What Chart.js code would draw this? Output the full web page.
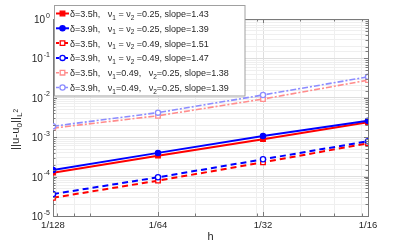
<!DOCTYPE html>
<html>
<head>
<meta charset="utf-8">
<script src="https://cdn.jsdelivr.net/npm/chart.js@4"></script>
<style>
  html, body { margin: 0; padding: 0; background: #fff; }
  #wrap { width: 407px; height: 244px; position: relative; }
</style>
</head>
<body>
<div id="wrap"><canvas id="errChart"></canvas></div>
<script>
// mesh sizes and their labels
const hValues = [1 / 128, 1 / 64, 1 / 32, 1 / 16];
const hLabels = ['1/128', '1/64', '1/32', '1/16'];

// error values
const errRedSolid   = [1.26e-4, 3.4e-4, 8.9e-4, 2.4e-3];
const errBlueSolid  = [1.48e-4, 4.0e-4, 1.07e-3, 2.6e-3];
const errRedDash    = [2.9e-5, 7.9e-5, 2.3e-4, 7.0e-4];
const errBlueDash   = [3.6e-5, 9.6e-5, 2.75e-4, 7.9e-4];
const errPink       = [1.7e-3, 3.5e-3, 9.3e-3, 2.8e-2];
const errLightBlue  = [1.9e-3, 4.2e-3, 1.18e-2, 3.4e-2];

// legend pieces
const deltas = ['3.5', '3.9', '3.5', '3.9', '3.5', '3.9'];
const nu1 = ['0.25', '0.25', '0.49', '0.49', '0.49', '0.49'];
const nu2 = ['0.25', '0.25', '0.49', '0.49', '0.25', '0.25'];
const slopes = ['1.43', '1.39', '1.51', '1.47', '1.38', '1.39'];

// y tick decades
const yDecades = [-5, -4, -3, -2, -1, 0];
// extra x grid lines (matlab minor grid on log axis)
const xMinor = [0.008, 0.009, 0.01, 0.02, 0.03, 0.04, 0.05, 0.06];

const FONT = '"Liberation Sans", Arial, Helvetica, sans-serif';
const TXT = '#262626';

function pts(arr) {
  return arr.map((v, i) => ({ x: hValues[i], y: v }));
}

function isMajorX(v) {
  return hValues.some(h => Math.abs(h - v) / h < 1e-6);
}
function isDecade(v) {
  const l = Math.log10(v);
  return Math.abs(l - Math.round(l)) < 1e-6;
}

const series = [
  { data: errRedSolid, color: '#ff0000', style: 'rect', open: false, dash: [], width: 2 },
  { data: errBlueSolid, color: '#0000ff', style: 'circle', open: false, dash: [], width: 2 },
  { data: errRedDash, color: '#ff0000', style: 'rect', open: true, dash: [6, 4], width: 2 },
  { data: errBlueDash, color: '#0000ff', style: 'circle', open: true, dash: [6, 4], width: 2 },
  { data: errPink, color: '#ff8c8c', style: 'rect', open: true, dash: [6, 2, 2, 2], width: 1.6 },
  { data: errLightBlue, color: '#8c8cff', style: 'circle', open: true, dash: [6, 2, 2, 2], width: 1.6 }
];

// draw a run of text pieces; each piece {t, size, dy}
function drawRich(ctx, x, y, parts) {
  let cx = x;
  parts.forEach(p => {
    ctx.font = p.size + 'px ' + FONT;
    ctx.fillText(p.t, cx, y + (p.dy || 0));
    cx += ctx.measureText(p.t).width;
  });
  return cx - x;
}

function drawMarker(ctx, s, x, y) {
  ctx.save();
  ctx.setLineDash([]);
  ctx.lineWidth = 1.3;
  ctx.strokeStyle = s.color;
  ctx.fillStyle = s.open ? '#ffffff' : s.color;
  ctx.beginPath();
  if (s.style === 'rect') {
    ctx.rect(x - 2.3, y - 2.3, 4.6, 4.6);
  } else {
    ctx.arc(x, y, 2.6, 0, Math.PI * 2);
  }
  ctx.fill();
  ctx.stroke();
  ctx.restore();
}

const overlay = {
  id: 'overlay',
  afterDraw(chart) {
    const { ctx, chartArea: a, scales } = chart;
    const xs = scales.x, ys = scales.y;
    ctx.save();

    // box and inward ticks
    ctx.strokeStyle = '#7a7a7a';
    ctx.lineWidth = 1;
    ctx.beginPath();
    ctx.moveTo(a.left, a.top + 0.5);
    ctx.lineTo(a.right + 0.5, a.top + 0.5);
    ctx.lineTo(a.right + 0.5, a.bottom);
    ctx.stroke();

    ys.ticks.forEach(t => {
      const py = Math.round(ys.getPixelForValue(t.value)) + 0.5;
      const len = isDecade(t.value) ? 4 : 2.5;
      ctx.beginPath();
      ctx.moveTo(a.left, py); ctx.lineTo(a.left + len, py);
      ctx.moveTo(a.right, py); ctx.lineTo(a.right - len, py);
      ctx.stroke();
    });
    xs.ticks.forEach(t => {
      const px = Math.round(xs.getPixelForValue(t.value)) + 0.5;
      const len = isMajorX(t.value) ? 4 : 2.5;
      ctx.beginPath();
      ctx.moveTo(px, a.bottom); ctx.lineTo(px, a.bottom - len);
      ctx.moveTo(px, a.top); ctx.lineTo(px, a.top + len);
      ctx.stroke();
    });

    // y tick labels 10^k
    ctx.fillStyle = TXT;
    ctx.textBaseline = 'alphabetic';
    yDecades.forEach(k => {
      const py = ys.getPixelForValue(Math.pow(10, k));
      const exp = String(k);
      ctx.font = '7px ' + FONT;
      const ew = ctx.measureText(exp).width;
      ctx.font = '10px ' + FONT;
      const bw = ctx.measureText('10').width;
      const right = 50;
      ctx.fillText('10', right - ew - bw - 1, py + 4);
      ctx.font = '7px ' + FONT;
      ctx.fillText(exp, right - ew, py - 1.5);
    });

    // y axis title ||u-u_0||_{L^2}
    ctx.save();
    ctx.translate(19, 150);
    ctx.rotate(-Math.PI / 2);
    drawRich(ctx, 0, 0, [
      { t: '||u-u', size: 11.5 },
      { t: '0', size: 8, dy: 3 },
      { t: '||', size: 11.5 },
      { t: 'L', size: 8, dy: 3 },
      { t: '2', size: 6.5, dy: -1.5 }
    ]);
    ctx.restore();

    // legend
    const lx = 54.5, ly = 5.5, lw = 190.5, lh = 90.5;
    ctx.fillStyle = '#ffffff';
    ctx.fillRect(lx, ly, lw, lh);
    ctx.strokeStyle = '#a0a0a0';
    ctx.lineWidth = 1;
    ctx.strokeRect(lx, ly, lw, lh);

    series.forEach((s, i) => {
      const ry = 13.5 + i * 14.8;
      ctx.save();
      ctx.strokeStyle = s.color;
      ctx.lineWidth = s.width;
      ctx.setLineDash(s.dash.length ? [3, 1.5] : []);
      ctx.beginPath();
      ctx.moveTo(56, ry); ctx.lineTo(69, ry);
      ctx.stroke();
      ctx.restore();
      drawMarker(ctx, s, 62.5, ry);

      ctx.fillStyle = TXT;
      const same = nu1[i] === nu2[i];
      const base = 9;
      drawRich(ctx, 70, ry + 3.5, same ? [
        { t: 'δ=' + deltas[i] + 'h,   ν', size: base },
        { t: '1', size: 6.5, dy: 2.5 },
        { t: ' = ν', size: base },
        { t: '2', size: 6.5, dy: 2.5 },
        { t: ' =' + nu1[i] + ', slope=' + slopes[i], size: base }
      ] : [
        { t: 'δ=' + deltas[i] + 'h,   ν', size: base },
        { t: '1', size: 6.5, dy: 2.5 },
        { t: '=' + nu1[i] + ',   ν', size: base },
        { t: '2', size: 6.5, dy: 2.5 },
        { t: '=' + nu2[i] + ', slope=' + slopes[i], size: base }
      ]);
    });

    ctx.restore();
  }
};

const datasets = series.map((s, i) => ({
  data: pts(s.data),
  borderColor: s.color,
  backgroundColor: s.color,
  borderWidth: s.width,
  borderDash: s.dash,
  pointStyle: s.style,
  pointRadius: s.style === 'rect' ? 3.2 : 2.6,
  pointBorderWidth: 1.3,
  pointBorderColor: s.color,
  pointBackgroundColor: s.open ? '#ffffff' : s.color,
  tension: 0,
  fill: false,
  order: 6 - i
}));

new Chart(document.getElementById('errChart'), {
  type: 'line',
  data: { datasets },
  options: {
    responsive: true,
    maintainAspectRatio: false,
    animation: false,
    layout: { padding: { top: 19, right: 39, left: 0, bottom: 0 } },
    plugins: {
      legend: { display: false },
      tooltip: { enabled: false }
    },
    scales: {
      x: {
        type: 'logarithmic',
        min: 1 / 128,
        max: 1 / 16,
        afterBuildTicks: s => {
          s.ticks = hValues.concat(xMinor).sort((p, q) => p - q).map(v => ({ value: v }));
        },
        afterFit: s => { s.height = 28; },
        ticks: {
          autoSkip: false,
          maxRotation: 0,
          padding: 4,
          color: TXT,
          font: { family: FONT, size: 9.5 },
          callback: v => {
            const i = hValues.findIndex(h => Math.abs(h - v) / h < 1e-6);
            return i >= 0 ? hLabels[i] : '';
          }
        },
        grid: {
          drawTicks: false,
          color: c => (c.tick && isMajorX(c.tick.value)) ? '#dedede' : '#efefef'
        },
        border: { color: '#7a7a7a' },
        title: {
          display: true,
          text: 'h',
          color: TXT,
          font: { family: FONT, size: 11 },
          padding: { top: 2, bottom: 0 }
        }
      },
      y: {
        type: 'logarithmic',
        min: 1e-5,
        max: 1,
        afterFit: s => { s.width = 53; },
        ticks: { display: false },
        grid: {
          drawTicks: false,
          color: c => (c.tick && isDecade(c.tick.value)) ? '#dedede' : '#efefef'
        },
        border: { color: '#7a7a7a' }
      }
    }
  },
  plugins: [overlay]
});
</script>
</body>
</html>
